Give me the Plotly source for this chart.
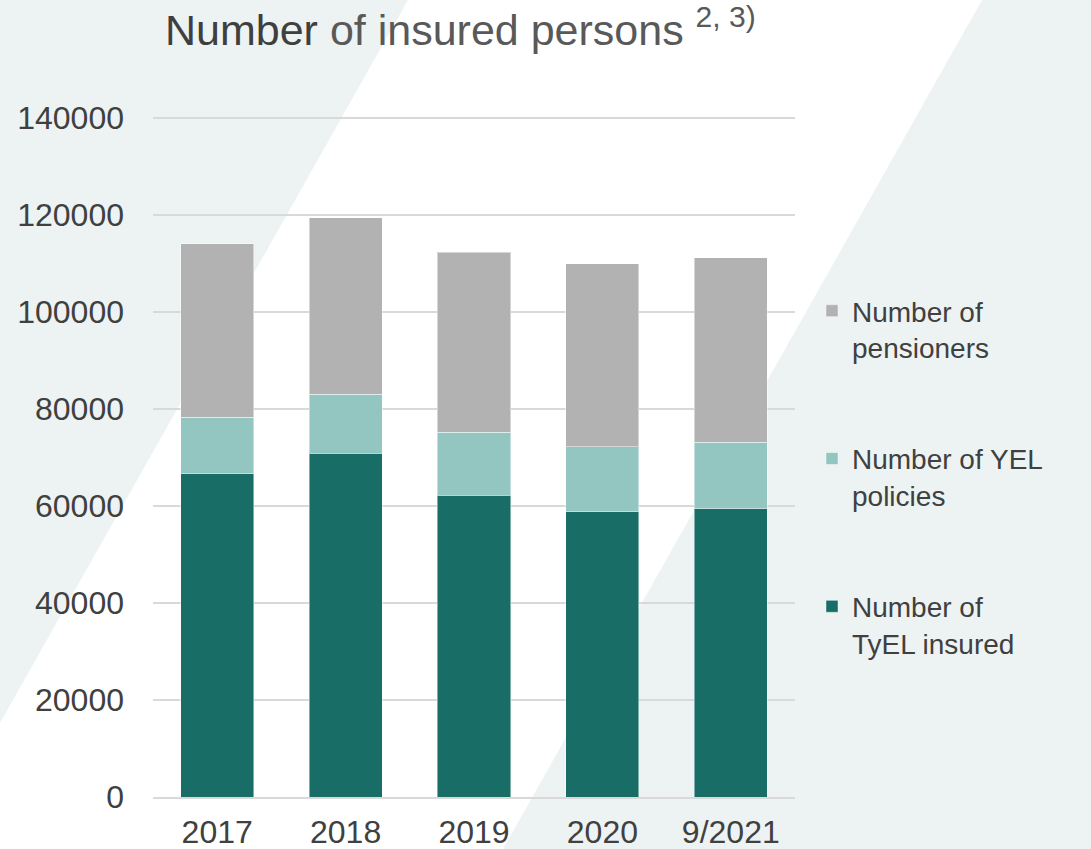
import plotly.graph_objects as go

categories = ["2017", "2018", "2019", "2020", "9/2021"]
tyel_insured = [66600, 70900, 62200, 58800, 59400]
yel_policies = [11700, 12100, 13000, 13400, 13700]
pensioners = [35800, 36400, 37100, 37700, 38100]

W, H = 1091, 849
# plot area: value 0 at y=797 px, 140000 at y=118 px
PPU = 679 / 140000
EXTRA = 3 / PPU
L, R, T, B = 153, 296, 115, 52
PW, PH = W - L - R, H - T - B

def px(x):
    return (x - L) / PW

def py(y):
    return (H - B - y) / PH

FONT = "Liberation Sans, Arial, sans-serif"
TXT = "#404040"
BG = "#EDF3F3"

fig = go.Figure()
series = [
    ("Number of<br>TyEL insured", tyel_insured, "#186E66", 3),
    ("Number of YEL<br>policies", yel_policies, "#93C5C1", 2),
    ("Number of<br>pensioners", pensioners, "#B2B2B2", 1),
]
for i, (name, vals, col, rank) in enumerate(series):
    fig.add_trace(go.Bar(
        x=categories, y=vals, name=name, legendgroup=f"g{i}", legendrank=rank,
        marker=dict(color=col, line=dict(color="rgba(255,255,255,0.45)", width=1)),
    ))

def poly(pts):
    return "M " + " L ".join(f"{px(a):.5f},{py(b):.5f}" for a, b in pts) + " Z"

shapes = [
    dict(type="path", xref="paper", yref="paper", layer="below",
         path=poly([(0, 0), (408, 0), (0, 723)]), fillcolor=BG, line=dict(width=0)),
    dict(type="path", xref="paper", yref="paper", layer="below",
         path=poly([(982, 0), (W, 0), (W, H), (503, H)]), fillcolor=BG, line=dict(width=0)),
]

fig.update_layout(
    width=W, height=H,
    margin=dict(l=L, r=R, t=T, b=B, pad=0, autoexpand=False),
    barmode="stack", bargap=0.43,
    paper_bgcolor="white", plot_bgcolor="rgba(0,0,0,0)",
    font=dict(family=FONT, color=TXT, size=28),
    shapes=shapes,
    title=dict(
        text="<span style='color:#3F3F3F'>Number</span> <span style='color:#595959'>of insured persons <sup>2, 3)</sup></span>",
        x=165 / W, xanchor="left", xref="container",
        y=1 - 30 / H, yanchor="middle", yref="container",
        font=dict(family=FONT, size=43, color="#595959"),
    ),
    xaxis=dict(
        tickfont=dict(size=32, color=TXT), showgrid=False, showline=True,
        linecolor="#D9D9D9", linewidth=2, ticks="", ticklabelstandoff=6,
        automargin=False,
    ),
    yaxis=dict(
        range=[0, 140000 + EXTRA], tickvals=[0, 20000, 40000, 60000, 80000, 100000, 120000, 140000],
        tickformat="d", tickfont=dict(size=32, color=TXT),
        showgrid=True, gridcolor="#D9D9D9", gridwidth=2, zeroline=False,
        showline=False, ticks="", ticklabelstandoff=28, automargin=False,
    ),
    legend=dict(
        traceorder="grouped", xref="container", yref="container",
        x=812 / W, xanchor="left", y=1 - 286 / H, yanchor="top",
        font=dict(size=28, color=TXT), valign="top",
        tracegroupgap=72, bgcolor="rgba(0,0,0,0)",
    ),
    showlegend=True,
)

fig.write_html(
    "out.html",
    config={"displayModeBar": False},
    post_script="document.body.style.margin='0';document.body.style.overflow='hidden';",
)
